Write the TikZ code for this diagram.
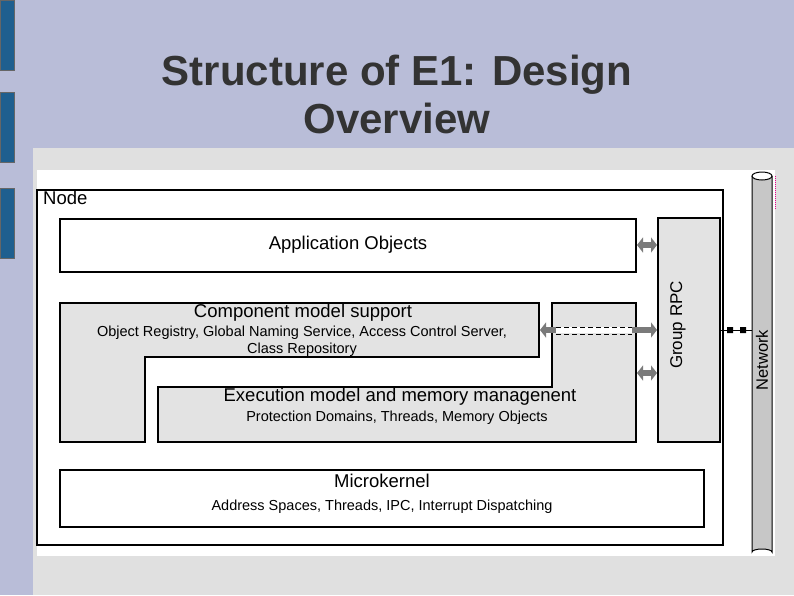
\documentclass[tikz,border=0pt]{standalone}
\usepackage{fontspec}
\setmainfont{Liberation Sans}
\usetikzlibrary{arrows.meta}
\definecolor{slide}{HTML}{B9BDD8}
\definecolor{panel}{HTML}{E0E0E0}
\definecolor{boxg}{HTML}{E3E3E3}
\definecolor{barb}{HTML}{1F5F8F}
\definecolor{arr}{HTML}{7A7A7A}
\definecolor{tit}{HTML}{333333}
\begin{document}
\begin{tikzpicture}[x=1pt,y=-1pt,
  box/.style={draw=black,line width=1.3pt},
  lab/.style={font=\fontsize{18.5}{20}\selectfont,inner sep=0},
  sub/.style={font=\fontsize{14.5}{17}\selectfont,inner sep=0,align=center},
  garrow/.style={draw=arr,line width=6pt,{Triangle[width=15pt,length=6pt]}-{Triangle[width=15pt,length=6pt]}}]
\useasboundingbox (0,0) rectangle (794,595);
\fill[slide] (0,0) rectangle (794,595);
\foreach \y in {0,92,188}{\fill[barb,draw=black!60,line width=0.5pt] (0,\y) rectangle (14,\y+70);}
\node[font=\bfseries\fontsize{42}{48}\selectfont,text=tit,align=center] (title) at (397,94) {Structure of E1: Design\\Overview};
\fill[panel] (33,148) rectangle (794,595);
\fill[white] (37,170) rectangle (775,556);
\draw[box,line width=1.5pt] (37,190) rectangle (723,545);
\node[lab,anchor=north west] (nodel) at (43,191) {Node};
% application
\draw[box,fill=white] (60,219) rectangle (636,272);
\node[lab] (app) at (348,245) {Application Objects};
% component
\draw[box,fill=boxg] (60,303) -- (539,303) -- (539,357) -- (145,357) -- (145,442) -- (60,442) -- cycle;
\node[lab] (comp) at (303,313) {Component model support};
\node[sub] (compsub) at (302,341) {Object Registry, Global Naming Service, Access Control Server,\\Class Repository};
% execution
\draw[box,fill=boxg] (158,387) -- (552,387) -- (552,303) -- (636,303) -- (636,442) -- (158,442) -- cycle;
\node[lab] (exec) at (400,397) {Execution model and memory managenent};
\node[sub] (execsub) at (397,418) {Protection Domains, Threads, Memory Objects};
% group rpc
\draw[box,fill=boxg] (658,218) rectangle (720,442);
\node[lab,rotate=90,font=\fontsize{17}{18}\selectfont] (rpc) at (678,325) {Group RPC};
% microkernel
\draw[box,fill=white] (60,470) rectangle (704,527);
\node[lab] (mk) at (382,481) {Microkernel};
\node[sub] (mksub) at (382,507) {Address Spaces, Threads, IPC, Interrupt Dispatching};
% network
\draw[black,line width=1pt,fill=black!22] (752,176) -- (752,552) arc[start angle=180,end angle=360,x radius=10,y radius=3] -- (772,176);
\draw[black,line width=1pt,fill=white] (762,176) ellipse [x radius=10,y radius=4];
\draw[magenta,densely dotted,line width=1pt] (775,176) -- (775,210);
\node[lab,rotate=90,font=\fontsize{16.5}{18}\selectfont] (net) at (762,360) {Network};
% arrows
\coordinate (a1) at (637,245); \coordinate (b1) at (657,245);
\coordinate (a2) at (540,330); \coordinate (b2) at (657,330);
\coordinate (a3) at (637,373); \coordinate (b3) at (657,373);
\draw[garrow] (a1) -- (b1);
\draw[garrow] (a2) -- (b2);
\draw[garrow] (a3) -- (b3);
\draw[white,line width=6pt] (556,330) -- (632,330);
\draw[dashed,line width=1pt,dash pattern=on 5pt off 3pt] (556,327) -- (632,327) (556,334) -- (632,334);
\coordinate (r1) at (720,330); \coordinate (r2) at (752,330);
\draw[line width=1pt] (r1) -- (r2);
\fill (727,327) rectangle (733,333) (740,327) rectangle (746,333);
\end{tikzpicture}
\end{document}
